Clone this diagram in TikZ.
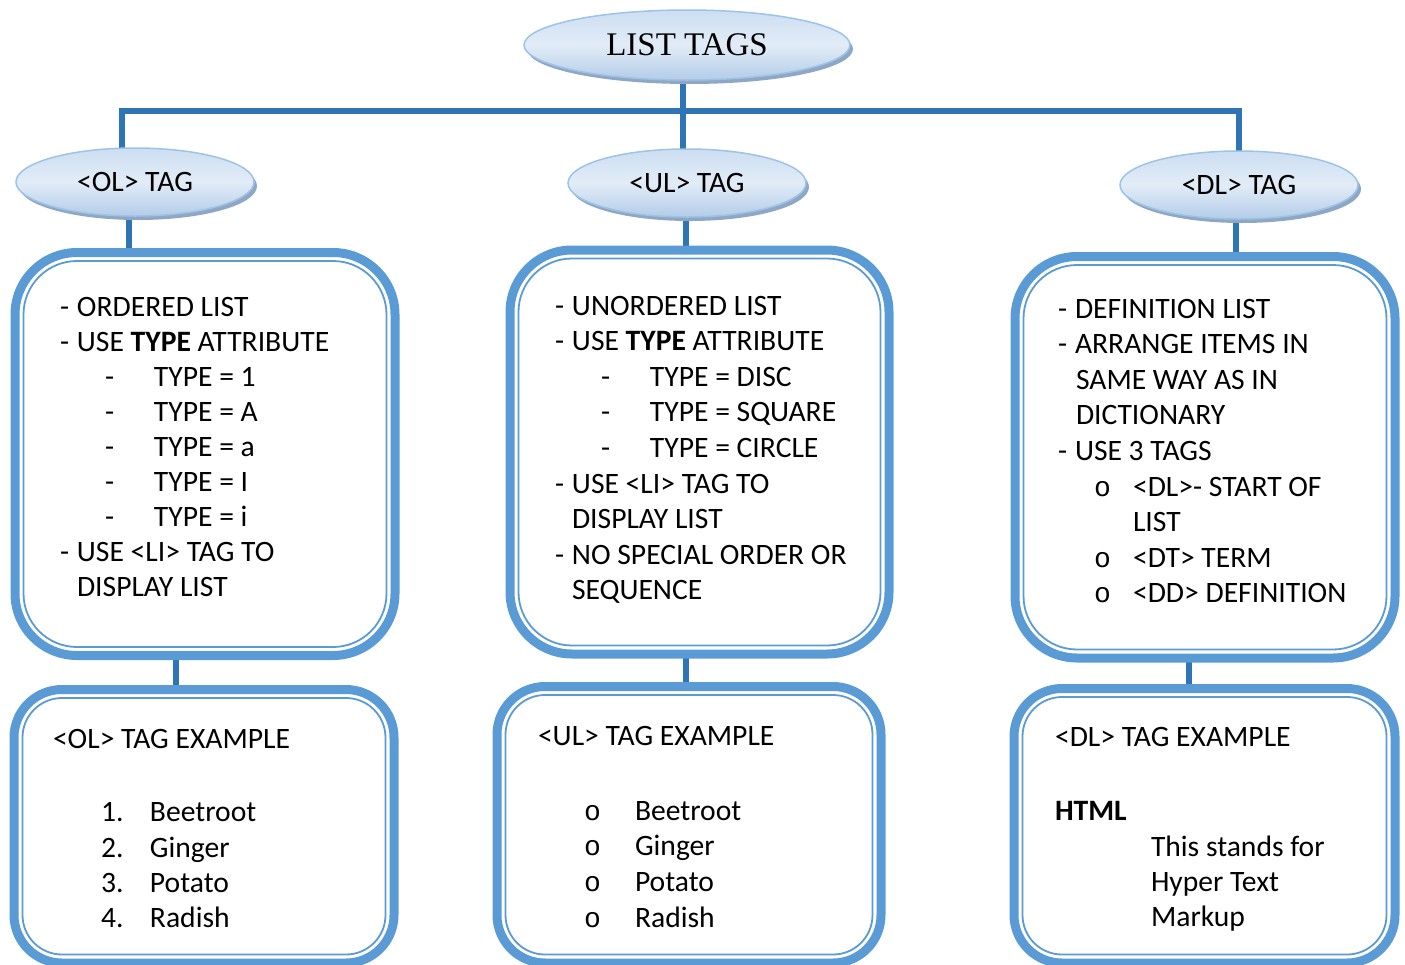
\documentclass[tikz,border=0pt]{standalone}
\usepackage{fontspec}
\setmainfont{Carlito}
\newfontfamily\serifT{Liberation Serif}
\newfontfamily\monoB{Liberation Mono}
\usetikzlibrary{shapes.geometric,shadows,backgrounds,calc}
\definecolor{boxblue}{HTML}{5B9BD5}
\definecolor{linkblue}{HTML}{2E75B6}
\definecolor{ellline}{HTML}{9DC3E6}
\definecolor{elltop}{HTML}{CCDEF2}
\definecolor{ellmid}{HTML}{E2ECF7}
\definecolor{ellbot}{HTML}{B3CCE8}
\definecolor{ellshadow}{HTML}{8FA7C4}
\newcommand\Da[1]{\makebox[17pt][l]{-}#1}
\newcommand\Db[1]{\makebox[49pt][l]{-}#1}
\newcommand\Bu[2]{\makebox[#1][l]{\fontsize{28}{30}\monoB o}#2}
\newcommand\Nu[2]{\makebox[49pt][l]{#1}#2}
\tikzset{
 txt/.style={anchor=base west, inner sep=0pt, outer sep=0pt, font=\fontsize{29.6}{35}\selectfont, text=black},
 ell/.style={ellipse, draw=ellline, line width=1.5pt, top color=elltop, bottom color=ellbot, middle color=ellmid,
   minimum width=238pt, minimum height=68pt, inner sep=0pt, font=\fontsize{29.6}{35}\selectfont,
   drop shadow={shadow xshift=3pt, shadow yshift=-4pt, fill=ellshadow, opacity=1}},
 obox/.style={rectangle, draw=boxblue, line width=9pt, outer sep=0pt, inner sep=0pt, fill=white},
 ibox/.style={draw=boxblue, line width=1.8pt},
 conn/.style={draw=linkblue, line width=6pt},
}
\begin{document}
\begin{tikzpicture}[x=1pt,y=-1pt]
\useasboundingbox (0,0) rectangle (1405,964);
\clip (0,0) rectangle (1405,964);
% ellipses
\node[ell, minimum width=326pt, minimum height=70pt, font=\serifT\fontsize{33}{38}\selectfont] (top) at (687,45) {LIST TAGS};
\node[ell] (ol) at (135,182) {<OL> TAG};
\node[ell] (ul) at (687,183) {<UL> TAG};
\node[ell] (dl) at (1239,185) {<DL> TAG};
% boxes
\node[obox, rounded corners=62pt, minimum width=380pt, minimum height=403pt] (b1) at (205,454) {};
\node[obox, rounded corners=62pt, minimum width=379pt, minimum height=404pt] (b2) at (699.5,452) {};
\node[obox, rounded corners=62pt, minimum width=380pt, minimum height=401.5pt] (b3) at (1205,457.25) {};
\node[obox, rounded corners=48pt, minimum width=380pt, minimum height=273.5pt] (b4) at (204,826.25) {};
\node[obox, rounded corners=48pt, minimum width=384pt, minimum height=276.5pt] (b5) at (689,824.75) {};
\node[obox, rounded corners=48pt, minimum width=381pt, minimum height=274.5pt] (b6) at (1204.5,825.75) {};
\foreach \b in {b1,b2,b3}
  \draw[ibox, rounded corners=53.5pt] ($(\b.north west)+(8.5,8.5)$) rectangle ($(\b.south east)+(-8.5,-8.5)$);
\foreach \b in {b4,b5,b6}
  \draw[ibox, rounded corners=39.5pt] ($(\b.north west)+(8.5,8.5)$) rectangle ($(\b.south east)+(-8.5,-8.5)$);
% connectors
\coordinate (busL) at (122,111);
\coordinate (busR) at (1239,111);
\coordinate (xt) at (683,0);
\coordinate (xo) at (129,0);
\coordinate (xu) at (686,0);
\coordinate (xd) at (1236,0);
\coordinate (x1) at (176,0);
\coordinate (x2) at (686,0);
\coordinate (x3) at (1189,0);
\begin{pgfonlayer}{background}
\draw[conn] (xt |- top.center) -- (xt |- busL);
\draw[conn] (busL |- ol.center) -- (busL) -- (busR) -- (busR |- dl.center);
\draw[conn] (xt |- busL) -- (xt |- ul.center);
\draw[conn] (xo |- ol.center) -- (xo |- b1.north);
\draw[conn] (xu |- ul.center) -- (xu |- b2.north);
\draw[conn] (xd |- dl.center) -- (xd |- b3.north);
\draw[conn] (x1 |- b1.south) -- (x1 |- b4.north);
\draw[conn] (x2 |- b2.south) -- (x2 |- b5.north);
\draw[conn] (x3 |- b3.south) -- (x3 |- b6.north);
\end{pgfonlayer}
% box 1 text
\node[txt] (a1) at (60,316) {\Da{ORDERED LIST}};
\node[txt] (a2) at (60,351.1) {\Da{USE \textbf{TYPE} ATTRIBUTE}};
\node[txt] (a3) at (105,386.2) {\Db{TYPE = 1}};
\node[txt] (a4) at (105,421.3) {\Db{TYPE = A}};
\node[txt] (a5) at (105,456.4) {\Db{TYPE = a}};
\node[txt] (a6) at (105,491.5) {\Db{TYPE = I}};
\node[txt] (a7) at (105,526.6) {\Db{TYPE = i}};
\node[txt] (a8) at (60,561.7) {\Da{USE <LI> TAG TO}};
\node[txt] (a9) at (77,596.8) {DISPLAY LIST};
% box 2 text
\node[txt] (c1) at (555,315) {\Da{UNORDERED LIST}};
\node[txt] (c2) at (555,350.6) {\Da{USE \textbf{TYPE} ATTRIBUTE}};
\node[txt] (c3) at (601,386.2) {\Db{TYPE = DISC}};
\node[txt] (c4) at (601,421.8) {\Db{TYPE = SQUARE}};
\node[txt] (c5) at (601,457.4) {\Db{TYPE = CIRCLE}};
\node[txt] (c6) at (555,493) {\Da{USE <LI> TAG TO}};
\node[txt] (c7) at (572,528.6) {DISPLAY LIST};
\node[txt] (c8) at (555,564.2) {\Da{NO SPECIAL ORDER OR}};
\node[txt] (c9) at (572,599.8) {SEQUENCE};
% box 3 text
\node[txt] (d1) at (1058,318) {\Da{DEFINITION LIST}};
\node[txt] (d2) at (1058,353.6) {\Da{ARRANGE ITEMS IN}};
\node[txt] (d3) at (1076,389.2) {SAME WAY AS IN};
\node[txt] (d4) at (1076,424.8) {DICTIONARY};
\node[txt] (d5) at (1058,460.4) {\Da{USE 3 TAGS}};
\node[txt] (d6) at (1094,496) {\Bu{39pt}{<DL>- START OF}};
\node[txt] (d7) at (1133,531.6) {LIST};
\node[txt] (d8) at (1094,567.2) {\Bu{39pt}{<DT> TERM}};
\node[txt] (d9) at (1094,602.8) {\Bu{39pt}{<DD> DEFINITION}};
% box 4 text
\node[txt] (e0) at (53,748) {<OL> TAG EXAMPLE};
\node[txt] (e1) at (101,821.5) {\Nu{1.}{Beetroot}};
\node[txt] (e2) at (101,857.2) {\Nu{2.}{Ginger}};
\node[txt] (e3) at (101,892.5) {\Nu{3.}{Potato}};
\node[txt] (e4) at (101,927.5) {\Nu{4.}{Radish}};
% box 5 text
\node[txt] (f0) at (538,745) {<UL> TAG EXAMPLE};
\node[txt] (f1) at (584,820) {\Bu{51pt}{Beetroot}};
\node[txt] (f2) at (584,855.7) {\Bu{51pt}{Ginger}};
\node[txt] (f3) at (584,891.3) {\Bu{51pt}{Potato}};
\node[txt] (f4) at (584,927) {\Bu{51pt}{Radish}};
% box 6 text
\node[txt] (g0) at (1055,746.7) {<DL> TAG EXAMPLE};
\node[txt] (g1) at (1055,820) {\textbf{HTML}};
\node[txt] (g2) at (1151,856.5) {This stands for};
\node[txt] (g3) at (1151,891) {Hyper Text};
\node[txt] (g4) at (1151,926.5) {Markup};
\end{tikzpicture}
\end{document}
